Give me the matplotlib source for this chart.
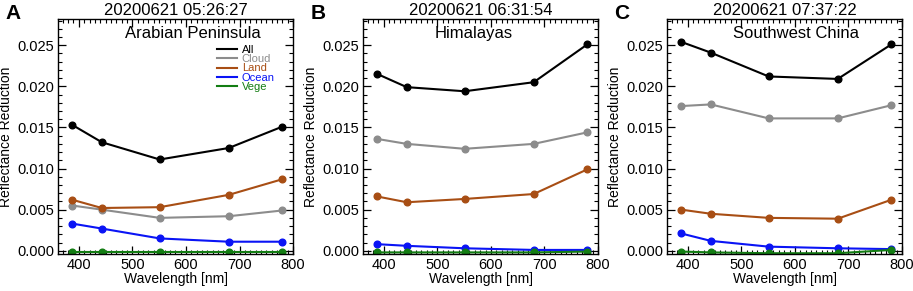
import matplotlib.pyplot as plt
from matplotlib.ticker import MultipleLocator
import numpy as np

plt.rcParams['font.family'] = ['Liberation Sans', 'DejaVu Sans']

wavelength = [388, 443, 551, 680, 780]

panel_letters = ['A', 'B', 'C']
times = ['20200621 05:26:27', '20200621 06:31:54', '20200621 07:37:22']
regions = ['Arabian Peninsula', 'Himalayas', 'Southwest China']

series_names = ['All', 'Cloud', 'Land', 'Ocean', 'Vege']
series_colors = ['black', '#8c8c8c', '#a84e14', '#0a14f5', '#137d13']

# Arabian Peninsula
a_all = [0.0153, 0.0132, 0.0111, 0.0125, 0.0151]
a_cloud = [0.0055, 0.0050, 0.0040, 0.0042, 0.0049]
a_land = [0.0062, 0.0052, 0.0053, 0.0068, 0.0087]
a_ocean = [0.0033, 0.0027, 0.0015, 0.0011, 0.0011]
a_vege = [-0.0002, -0.0002, -0.0002, -0.0002, -0.0002]

# Himalayas
b_all = [0.0215, 0.0199, 0.0194, 0.0205, 0.0251]
b_cloud = [0.0136, 0.0130, 0.0124, 0.0130, 0.0144]
b_land = [0.0066, 0.0059, 0.0063, 0.0069, 0.0099]
b_ocean = [0.0008, 0.0006, 0.0003, 0.0001, 0.0001]
b_vege = [-0.0002, -0.0002, -0.0002, -0.0002, -0.0001]

# Southwest China
c_all = [0.0254, 0.0241, 0.0212, 0.0209, 0.0251]
c_cloud = [0.0176, 0.0178, 0.0161, 0.0161, 0.0177]
c_land = [0.0050, 0.0045, 0.0040, 0.0039, 0.0062]
c_ocean = [0.0021, 0.0012, 0.0005, 0.0003, 0.0002]
c_vege = [-0.0001, -0.0002, -0.0003, -0.0003, 0.0001]

panels = [
    [a_all, a_cloud, a_land, a_ocean, a_vege],
    [b_all, b_cloud, b_land, b_ocean, b_vege],
    [c_all, c_cloud, c_land, c_ocean, c_vege],
]

region_x = [0.575, 0.47, 0.55]
axes_left = [0.064, 0.398, 0.731]
axes_w = 0.257

fig = plt.figure(figsize=(9.13, 2.91), dpi=100)

for i in range(3):
    ax = fig.add_axes([axes_left[i], 0.127, axes_w, 0.808])
    for vals, name, col in zip(panels[i], series_names, series_colors):
        ax.plot(wavelength, vals, color=col, lw=1.5, marker='o', ms=4.8, label=name)

    ax.set_xlim(362, 800)
    ax.set_ylim(-0.0004, 0.0282)
    ax.xaxis.set_major_locator(MultipleLocator(100))
    ax.xaxis.set_minor_locator(MultipleLocator(10))
    ax.yaxis.set_major_locator(MultipleLocator(0.005))
    ax.yaxis.set_minor_locator(MultipleLocator(0.001))
    ax.yaxis.set_major_formatter(plt.FormatStrFormatter('%.3f'))
    ax.tick_params(which='both', direction='in', top=True, right=True, labelsize=10.5)
    ax.tick_params(which='major', length=6, width=0.9, pad=3)
    ax.tick_params(which='minor', length=3, width=0.8)
    for s in ax.spines.values():
        s.set_linewidth(1.0)

    ax.set_xlabel('Wavelength [nm]', fontsize=10, labelpad=0)
    ax.set_ylabel('Reflectance Reduction', fontsize=10, labelpad=3)
    ax.set_title(times[i], fontsize=12, pad=3)
    ax.text(region_x[i], 0.94, regions[i], transform=ax.transAxes,
            ha='center', va='center', fontsize=12)

    fig.text(axes_left[i] - 0.058, 0.985, panel_letters[i], fontsize=15,
             fontweight='bold', ha='left', va='top')

    if i == 0:
        ax.legend(loc='upper left', bbox_to_anchor=(0.675, 0.888), frameon=False,
                  fontsize=8, handlelength=1.8, handletextpad=0.45,
                  labelspacing=-0.08, borderpad=0, borderaxespad=0,
                  labelcolor='linecolor', markerscale=0)

fig.savefig('out.png', dpi=100)
